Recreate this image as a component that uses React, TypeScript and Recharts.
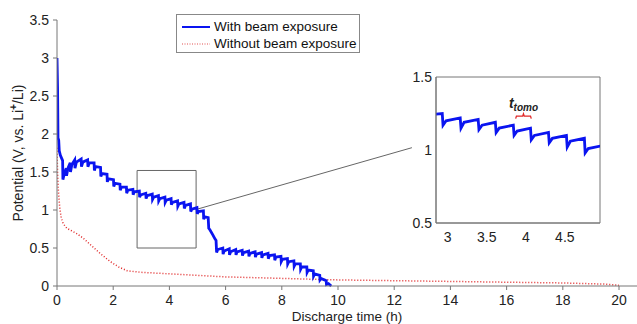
import React from 'react';
import {
  LineChart,
  Line,
  XAxis,
  YAxis,
  ReferenceArea,
  ReferenceLine,
  ReferenceDot,
} from 'recharts';

// discharge with beam exposure: [hours, volts]
const beamPoints: [number, number][] = [
  [0, 3.0], [0.02, 2.6], [0.035, 1.95], [0.06, 1.92], [0.08, 1.78], [0.12, 1.72], [0.2, 1.65],
  [0.21, 1.4], [0.26, 1.48], [0.33, 1.55], [0.34, 1.45], [0.39, 1.55], [0.47, 1.62],
  [0.48, 1.5], [0.53, 1.6], [0.63, 1.66], [0.64, 1.55], [0.69, 1.63], [0.86, 1.67],
  [0.87, 1.57], [0.92, 1.63], [1.09, 1.66], [1.1, 1.57], [1.15, 1.62], [1.32, 1.62],
  [1.33, 1.52], [1.37, 1.57], [1.55, 1.56], [1.56, 1.44], [1.6, 1.48], [1.78, 1.47],
  [1.79, 1.37], [1.83, 1.41], [2.01, 1.4], [2.02, 1.31], [2.06, 1.35], [2.24, 1.34],
  [2.25, 1.26], [2.29, 1.3], [2.47, 1.3], [2.48, 1.22], [2.52, 1.26], [2.7, 1.27],
  [2.71, 1.2], [2.75, 1.24], [2.93, 1.25],
  [2.94, 1.17], [2.98, 1.2], [3.16, 1.22], [3.17, 1.15], [3.21, 1.19], [3.39, 1.21],
  [3.4, 1.14], [3.44, 1.17], [3.61, 1.19], [3.62, 1.12], [3.66, 1.15], [3.84, 1.17],
  [3.85, 1.1], [3.89, 1.13], [4.06, 1.15], [4.07, 1.07], [4.11, 1.1], [4.29, 1.12],
  [4.3, 1.05], [4.34, 1.08], [4.52, 1.1], [4.53, 1.02], [4.57, 1.06], [4.75, 1.08],
  [4.76, 0.98], [4.8, 1.01], [4.98, 1.03],
  [4.99, 0.95], [5.03, 0.98], [5.21, 0.99], [5.22, 0.88], [5.26, 0.91], [5.38, 0.9],
  [5.4, 0.76], [5.44, 0.74], [5.55, 0.67], [5.62, 0.62], [5.66, 0.6], [5.68, 0.44],
  [5.72, 0.48], [5.9, 0.5], [5.91, 0.42], [5.95, 0.46], [6.13, 0.49], [6.14, 0.41],
  [6.18, 0.45], [6.36, 0.48], [6.37, 0.41], [6.41, 0.45], [6.59, 0.47], [6.6, 0.4],
  [6.64, 0.44], [6.82, 0.46], [6.83, 0.39], [6.87, 0.43], [7.05, 0.45], [7.06, 0.38],
  [7.1, 0.42], [7.28, 0.44], [7.29, 0.37], [7.33, 0.41], [7.51, 0.43], [7.52, 0.36],
  [7.56, 0.4], [7.74, 0.41], [7.75, 0.34], [7.79, 0.38], [7.97, 0.39], [7.98, 0.32],
  [8.02, 0.35], [8.2, 0.36], [8.21, 0.29], [8.25, 0.32], [8.43, 0.33], [8.44, 0.26],
  [8.48, 0.29], [8.66, 0.29], [8.67, 0.22], [8.71, 0.25], [8.89, 0.25], [8.9, 0.18],
  [8.94, 0.21], [9.12, 0.2], [9.13, 0.13], [9.17, 0.16], [9.35, 0.14], [9.36, 0.08],
  [9.4, 0.1], [9.58, 0.07], [9.59, 0.02], [9.66, 0.03], [9.76, 0],
];

// discharge without beam exposure: [hours, volts]
const noBeamPoints: [number, number][] = [
  [0, 1.82], [0.02, 1.5], [0.05, 1.25], [0.1, 1.02], [0.15, 0.9], [0.22, 0.82],
  [0.35, 0.76], [0.5, 0.73], [0.7, 0.69], [0.93, 0.63], [1.2, 0.54], [1.53, 0.43],
  [1.9, 0.32], [2.2, 0.25], [2.5, 0.2], [3, 0.18], [4, 0.16], [5, 0.14], [6, 0.12],
  [8, 0.1], [10, 0.08], [12, 0.07], [14, 0.06], [16, 0.05], [18, 0.04], [19.5, 0.025],
  [20, 0.01],
];

// red brace marking one tomography interval in the inset
const bracePoints: [number, number][] = [
  [3.87, 1.215], [3.88, 1.232], [3.96, 1.232], [3.97, 1.248], [3.98, 1.232], [4.06, 1.232], [4.07, 1.215],
];

const mainXTicks = [0, 2, 4, 6, 8, 10, 12, 14, 16, 18, 20];
const mainYTicks = [0, 0.5, 1, 1.5, 2, 2.5, 3, 3.5];
const insetXTicks = [3, 3.5, 4, 4.5];
const insetYTicks = [0.5, 1, 1.5];
const zoomBox = { x1: 2.85, x2: 4.95, y1: 0.5, y2: 1.52 };
const connector = [{ x: 4.98, y: 1.01 }, { x: 12.63, y: 1.82 }];

const toRows = (pts: [number, number][]) => pts.map(([t, v]) => ({ t, v }));
const beamData = toRows(beamPoints);
const noBeamData = toRows(noBeamPoints);
const braceData = toRows(bracePoints);

const FONT = '"Liberation Sans", Arial, sans-serif';
const BLUE = '#0a14f0';
const RED = '#e02828';
const AXIS = '#777';
const tickStyle = { fill: '#222', fontSize: 14, fontFamily: FONT };

const YLabel = (props: any) => {
  const vb = props.viewBox || {};
  const cy = (vb.y ?? 20) + (vb.height ?? 266) / 2;
  return (
    <text
      x={0}
      y={0}
      transform={`translate(23, ${cy}) rotate(-90)`}
      textAnchor="middle"
      fontFamily={FONT}
      fontSize={14}
      fill="#222"
    >
      <tspan>Potential (V, vs. Li</tspan>
      <tspan fontSize={10} fontWeight="bold" dy={-6}>+</tspan>
      <tspan dy={6}>/Li)</tspan>
    </text>
  );
};

const TomoLabel = (props: any) => {
  const vb = props.viewBox || {};
  return (
    <text x={vb.x} y={vb.y} textAnchor="middle" fontFamily={FONT} fill="#222" fontWeight="bold" fontStyle="italic">
      <tspan fontSize={14}>t</tspan>
      <tspan fontSize={10} dy={3}>tomo</tspan>
    </text>
  );
};

const legendRows = [
  { label: 'With beam exposure', color: BLUE, dash: undefined, w: 2 },
  { label: 'Without beam exposure', color: '#ec8a8a', dash: '1 1.5', w: 1.5 },
];

const LegendBox = () => (
  <div
    style={{
      position: 'absolute',
      left: 176,
      top: 14,
      border: '1px solid #888',
      background: '#fff',
      width: 184,
      height: 39,
      fontFamily: FONT,
      fontSize: 13.5,
      color: '#111',
      boxSizing: 'border-box',
      padding: '3px 0 0 5px',
      lineHeight: '17px',
    }}
  >
    {legendRows.map((r) => (
      <div key={r.label} style={{ display: 'flex', alignItems: 'center' }}>
        <svg width={28} height={10} style={{ marginRight: 4 }}>
          <line x1={0} y1={5} x2={28} y2={5} stroke={r.color} strokeWidth={r.w} strokeDasharray={r.dash} />
        </svg>
        <span>{r.label}</span>
      </div>
    ))}
  </div>
);

export default function App() {
  return (
    <div style={{ position: 'absolute', left: 0, top: 0, width: 637, height: 324, background: '#fff' }}>
      <LineChart width={637} height={324} margin={{ top: 20, right: 0, bottom: 8, left: 17 }}>
        <XAxis
          type="number"
          dataKey="t"
          domain={[0, 20.64]}
          ticks={mainXTicks}
          allowDataOverflow
          tickSize={4}
          tickMargin={5}
          height={30}
          stroke={AXIS}
          tick={tickStyle}
          label={{
            value: 'Discharge time (h)',
            position: 'insideBottom',
            offset: -5,
            style: { fontFamily: FONT, fontSize: 13.5, fill: '#222' },
          }}
        />
        <YAxis
          type="number"
          dataKey="v"
          domain={[0, 3.5]}
          ticks={mainYTicks}
          width={40}
          tickSize={4}
          tickMargin={4}
          stroke={AXIS}
          tick={tickStyle}
          label={<YLabel />}
        />
        <ReferenceArea
          x1={zoomBox.x1}
          x2={zoomBox.x2}
          y1={zoomBox.y1}
          y2={zoomBox.y2}
          fill="none"
          fillOpacity={0}
          stroke="#666"
          strokeWidth={1}
        />
        <ReferenceLine segment={connector} stroke="#666" strokeWidth={1} ifOverflow="visible" />
        <Line
          data={noBeamData}
          dataKey="v"
          stroke={RED}
          strokeWidth={1.5}
          strokeDasharray="1 2"
          dot={false}
          isAnimationActive={false}
        />
        <Line
          data={beamData}
          dataKey="v"
          stroke={BLUE}
          strokeWidth={2.8}
          dot={false}
          isAnimationActive={false}
        />
      </LineChart>

      <LegendBox />

      <div style={{ position: 'absolute', left: 400, top: 60 }}>
        <LineChart width={210} height={188} margin={{ top: 17, right: 10, bottom: 0, left: 0 }}>
          <XAxis
            type="number"
            dataKey="t"
            domain={[2.85, 4.95]}
            ticks={insetXTicks}
            allowDataOverflow
            tickSize={0}
            tickMargin={9}
            height={25}
            stroke={AXIS}
            tick={tickStyle}
          />
          <YAxis
            type="number"
            dataKey="v"
            domain={[0.5, 1.5]}
            ticks={insetYTicks}
            allowDataOverflow
            width={36}
            tickSize={0}
            tickMargin={4}
            stroke={AXIS}
            tick={tickStyle}
          />
          <ReferenceArea x1={2.85} x2={4.95} y1={0.5} y2={1.5} fill="none" fillOpacity={0} stroke={AXIS} strokeWidth={1} />
          <Line data={beamData} dataKey="v" stroke={BLUE} strokeWidth={2.8} dot={false} isAnimationActive={false} />
          <Line data={braceData} dataKey="v" stroke={RED} strokeWidth={1.3} dot={false} isAnimationActive={false} />
          <ReferenceDot x={3.97} y={1.29} r={0} fill="none" stroke="none" label={<TomoLabel />} />
        </LineChart>
      </div>
    </div>
  );
}
